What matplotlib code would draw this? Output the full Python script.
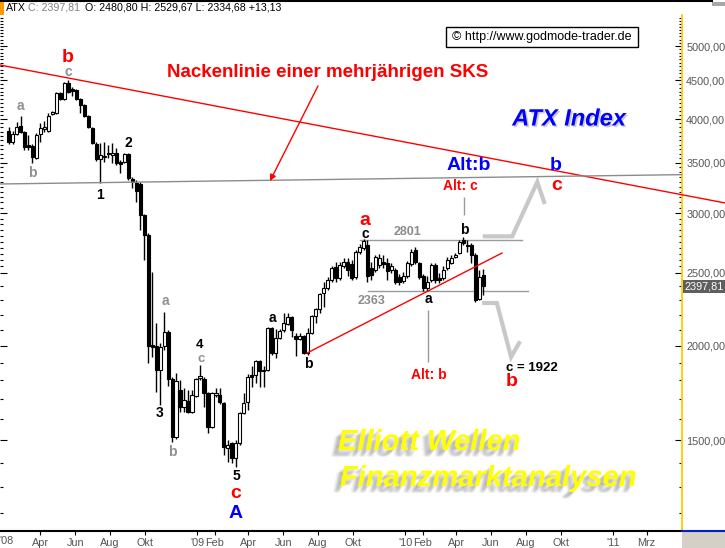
import numpy as np
import pandas as pd
import matplotlib
matplotlib.use("Agg")
import matplotlib.pyplot as plt
import matplotlib.dates as mdates
import matplotlib.patheffects as pe
import matplotlib.transforms as mtransforms
from matplotlib.patches import Rectangle
from matplotlib.lines import Line2D
from matplotlib.ticker import FixedLocator, FuncFormatter, NullFormatter

plt.rcParams["font.family"] = ["Liberation Sans", "DejaVu Sans"]

# weekly ATX candles, Feb 2008 - May 2010
weeks = pd.date_range("2008-02-05", periods=120, freq="W-TUE")
opens = [3858, 3731, 3823, 3918, 3847, 3697, 3685, 3553, 3823, 3882,
         3858, 4064, 4077, 4334, 4255, 4468, 4387, 4374, 4255, 4178,
         4039, 3894, 3708, 3542, 3563, 3596, 3585, 3607, 3509, 3509,
         3596, 3332, 3291, 3281, 2985, 2807, 2006, 1999, 1858, 1999,
         2087, 1808, 1514, 1748, 1659, 1690, 1634, 1716, 1813, 1808,
         1732, 1561, 1721, 1721, 1680, 1464, 1486, 1420, 1486, 1629,
         1685, 1830, 1830, 1910, 1852, 1858, 2113, 1957, 2049, 2100,
         2139, 2185, 2062, 2043, 2062, 1957, 2081, 2192, 2239, 2351,
         2387, 2447, 2546, 2462, 2554, 2585, 2569, 2469, 2665, 2698,
         2723, 2538, 2523, 2561, 2585, 2577, 2523, 2523, 2469, 2440,
         2477, 2569, 2682, 2577, 2477, 2387, 2447, 2561, 2462, 2462,
         2538, 2577, 2625, 2657, 2765, 2723, 2723, 2641, 2308, 2481]
highs = [3906, 3858, 3966, 4039, 3858, 3811, 3708, 3835, 3954, 3978,
         4077, 4102, 4347, 4347, 4482, 4509, 4414, 4387, 4268, 4190,
         4052, 3906, 3731, 3719, 3731, 3697, 3719, 3663, 3531, 3607,
         3607, 3352, 3322, 3301, 2994, 2825, 2507, 2145, 2018, 2218,
         2100, 1819, 1841, 1802, 1759, 1748, 1748, 1813, 1887, 1819,
         1737, 1737, 1759, 1759, 1685, 1500, 1491, 1500, 1634, 1732,
         1835, 1881, 1916, 1916, 1881, 2119, 2119, 2106, 2106, 2212,
         2212, 2192, 2081, 2081, 2068, 2113, 2198, 2246, 2351, 2432,
         2469, 2554, 2585, 2585, 2617, 2617, 2601, 2682, 2731, 2773,
         2765, 2585, 2641, 2649, 2641, 2617, 2577, 2538, 2492, 2507,
         2593, 2690, 2706, 2585, 2492, 2477, 2577, 2577, 2499, 2554,
         2625, 2641, 2657, 2765, 2790, 2765, 2740, 2657, 2523, 2530]
lows = [3708, 3708, 3811, 3835, 3641, 3641, 3499, 3542, 3731, 3847,
        3847, 4052, 4064, 4242, 4242, 4334, 4294, 4242, 4077, 4027,
        3894, 3708, 3520, 3291, 3509, 3553, 3499, 3477, 3393, 3499,
        3322, 3241, 3105, 2851, 2601, 1898, 1933, 1737, 1669, 1975,
        1769, 1491, 1505, 1634, 1634, 1629, 1629, 1711, 1802, 1659,
        1532, 1556, 1711, 1675, 1433, 1402, 1398, 1381, 1477, 1624,
        1644, 1764, 1786, 1764, 1764, 1852, 1945, 1927, 2043, 2087,
        2132, 2055, 1939, 2037, 1951, 1945, 2074, 2145, 2212, 2253,
        2373, 2432, 2432, 2447, 2538, 2477, 2447, 2454, 2649, 2682,
        2432, 2447, 2507, 2538, 2538, 2447, 2499, 2417, 2409, 2424,
        2462, 2554, 2569, 2454, 2366, 2366, 2432, 2424, 2424, 2447,
        2523, 2569, 2617, 2649, 2723, 2665, 2577, 2287, 2301, 2335]
closes = [3731, 3823, 3906, 3847, 3674, 3674, 3563, 3811, 3894, 3906,
          4039, 4089, 4334, 4255, 4468, 4347, 4360, 4255, 4178, 4039,
          3906, 3719, 3542, 3585, 3574, 3607, 3607, 3499, 3488, 3596,
          3342, 3301, 3212, 2985, 2807, 1999, 1993, 1858, 1993, 2087,
          1808, 1514, 1796, 1659, 1695, 1634, 1721, 1808, 1824, 1732,
          1561, 1732, 1732, 1685, 1468, 1477, 1420, 1486, 1629, 1680,
          1819, 1819, 1910, 1852, 1858, 2113, 1957, 2049, 2093, 2145,
          2185, 2100, 2043, 2062, 1957, 2081, 2192, 2239, 2344, 2387,
          2447, 2538, 2462, 2561, 2585, 2523, 2462, 2665, 2706, 2756,
          2477, 2484, 2625, 2617, 2569, 2515, 2554, 2432, 2432, 2477,
          2577, 2665, 2585, 2469, 2387, 2432, 2561, 2447, 2447, 2523,
          2601, 2617, 2641, 2748, 2740, 2715, 2641, 2301, 2469, 2398]
last_close = 2397.81

# hand drawn lines (dates, index levels)
neck_red_dates = ["2008-01-21", "2011-07-17"]
neck_red_vals = [4718, 3095]
neck_gray_dates = ["2008-01-21", "2011-05-02"]
neck_gray_vals = [3280, 3375]
trend_dates = ["2009-07-13", "2010-06-20"]
trend_vals = [1957, 2656]
top_range_dates = ["2009-10-14", "2010-07-25"]
top_range_val = 2765
low_range_dates = ["2009-10-28", "2010-08-05"]
low_range_val = 2366
path_up_dates = ["2010-05-21", "2010-07-08", "2010-08-21", "2010-09-02"]
path_up_vals = [2795, 2795, 3300, 3104]
path_dn_dates = ["2010-05-20", "2010-06-11", "2010-07-06", "2010-07-20"]
path_dn_vals = [2280, 2280, 1933, 2017]
vline_dates = ["2010-04-14", "2010-02-10"]
vline_tops = [3152, 2232]
vline_bottoms = [2983, 1904]

tick_dates = ["2008-04-01", "2008-06-01", "2008-08-01", "2008-10-01",
              "2009-01-01", "2009-02-01", "2009-04-01", "2009-06-01",
              "2009-08-01", "2009-10-01", "2010-01-01", "2010-02-01",
              "2010-04-01", "2010-06-01", "2010-08-01", "2010-10-01",
              "2011-01-01", "2011-03-01"]
tick_labels = ["Apr", "Jun", "Aug", "Okt", "'09", "Feb", "Apr", "Jun",
               "Aug", "Okt", "'10", "Feb", "Apr", "Jun", "Aug", "Okt",
               "'11", "Mrz"]
y_major = [1500, 2000, 2500, 3000, 3500, 4000, 4500, 5000]

W, H = 725, 548
fig = plt.figure(figsize=(W / 100, H / 100), dpi=100)
ax = fig.add_axes([0, 17 / H, 682 / W, 516 / H])

x = mdates.date2num(weeks)
o, hi, lo, c = map(np.array, (opens, highs, lows, closes))
ax.vlines(x, lo, hi, color="black", lw=1, zorder=2)
b_lo = np.minimum(o, c)
b_hi = np.maximum(o, c)
ax.bar(x, b_hi - b_lo, bottom=b_lo, width=5.5,
       color=np.where(c >= o, "white", "black"),
       edgecolor="black", linewidth=0.8, zorder=3)

dn = pd.to_datetime
ax.plot(dn(neck_red_dates), neck_red_vals, color="red", lw=1, clip_on=False, zorder=4)
ax.plot(dn(neck_gray_dates), neck_gray_vals, color="#8c8c8c", lw=1, zorder=4)
ax.plot(dn(trend_dates), trend_vals, color="red", lw=1, zorder=4)
ax.plot(dn(top_range_dates), [top_range_val] * 2, color="#9a9a9a", lw=1, zorder=1)
ax.plot(dn(low_range_dates), [low_range_val] * 2, color="#9a9a9a", lw=1, zorder=1)
ax.vlines(dn(vline_dates), vline_bottoms, vline_tops, color="#9a9a9a", lw=1)
ax.plot(dn(path_up_dates), path_up_vals, color="#c8c8c8", lw=3, solid_joinstyle="miter")
ax.plot(dn(path_dn_dates), path_dn_vals, color="#c8c8c8", lw=3, solid_joinstyle="miter")

ax.set_yscale("log")
ax.set_ylim(1136, 5497)
ax.set_xlim(dn("2008-01-21"), dn("2011-05-02"))

minor = [v for v in range(1200, 2500, 100)] + [v for v in range(2500, 5500, 50)]
minor = [v for v in minor if v not in y_major]
ax.yaxis.set_major_locator(FixedLocator(y_major))
ax.yaxis.set_minor_locator(FixedLocator(minor))
ax.yaxis.set_major_formatter(FuncFormatter(lambda v, p: f"{v:.2f}".replace(".", ",")))
ax.yaxis.set_minor_formatter(NullFormatter())
ax.tick_params(axis="y", which="both", direction="in", left=True, right=True,
               labelleft=False, labelright=True, labelcolor="#555555",
               labelsize=7.8, pad=3, width=0.8)
ax.tick_params(axis="y", which="major", length=5)
ax.tick_params(axis="y", which="minor", length=2.5)

ax.set_xticks(dn(tick_dates))
ax.set_xticklabels(tick_labels)
ax.tick_params(axis="x", direction="out", length=3, width=0.8, labelsize=7.8,
               labelcolor="#555555", pad=2)

for s in ("top", "left"):
    ax.spines[s].set_visible(False)
ax.spines["right"].set_color("#ffcc00")
ax.spines["right"].set_linewidth(1.3)
ax.spines["bottom"].set_linewidth(1.5)

# current value tag on the price scale
trans = mtransforms.blended_transform_factory(ax.transAxes, ax.transData)
ax.text(1.004, last_close, f"{last_close:.2f}".replace(".", ","), transform=trans,
        ha="left", va="center", fontsize=7.8, color="white", clip_on=False,
        bbox=dict(boxstyle="square,pad=0.12", fc="#5f5f5f", ec="none"))


def put(px, py, s, **kw):
    kw.setdefault("ha", "center")
    kw.setdefault("va", "center")
    return fig.text(px / W, 1 - py / H, s, **kw)


# frame bits
fig.add_artist(Line2D([0, 712 / W], [1 - 1 / H] * 2, color="black", lw=1.5))
fig.add_artist(Rectangle((0, 1 - 15 / H), 4 / W, 15 / H, fc="#ff9900", ec="none"))
fig.add_artist(Rectangle((712 / W, 1 - 6 / H), 13 / W, 4 / H, fc="#a8a8a8", ec="none"))
fig.add_artist(Rectangle((682 / W, 0), 43 / W, 17 / H, fc="#d4d0c8", ec="none"))
fig.add_artist(Line2D([682 / W, 1], [17 / H] * 2, color="#0020c0", lw=1.5))
put(7, 541, "'08", fontsize=7.8, color="#555555")

# header
put(6, 8, "ATX", ha="left", fontsize=7.7, color="black")
put(28, 8, "C: 2397,81", ha="left", fontsize=7.7, color="#808080")
put(85, 8, "O: 2480,80 H: 2529,67 L: 2334,68 +13,13", ha="left", fontsize=7.7, color="black")

# source box
fig.add_artist(Rectangle((446 / W, 1 - 47 / H), 192 / W, 20 / H, fc="white", ec="black", lw=1))
put(542, 37, "\u00a9 http://www.godmode-trader.de", fontsize=9, color="black")

put(328, 72, "Nackenlinie einer mehrjährigen SKS", fontsize=13.5, weight="bold", color="red")
fig.add_artist(plt.Annotation("", xy=(270 / W, 1 - 181 / H), xytext=(318 / W, 1 - 86 / H),
                              xycoords="figure fraction", textcoords="figure fraction",
                              arrowprops=dict(arrowstyle="-|>", color="red", lw=1,
                                              mutation_scale=9, shrinkA=0, shrinkB=0)))

put(569, 119, "ATX Index", fontsize=17, weight="bold", style="italic", color="#0000ff",
    path_effects=[pe.SimplePatchShadow(offset=(1.2, -1.2), shadow_rgbFace="#9a9a9a", alpha=0.5),
                  pe.Normal()])

# soft, blurred shadow for the yellow banner
offs = [(-1.5, -1.5), (-2.5, -2.5), (-3.5, -3), (-3, -4), (-4.5, -4), (-4, -5), (-5.5, -4.5)]
shadow = [pe.SimplePatchShadow(offset=(dx, dy), shadow_rgbFace="#7a7a7a", alpha=0.1)
          for dx, dy in offs] + [pe.Normal()]
put(338, 450, "Elliott Wellen", ha="left", va="baseline", fontsize=21, weight="bold",
    style="italic", color="#ffff00", path_effects=shadow)
put(340, 486, "Finanzmarktanalysen", ha="left", va="baseline", fontsize=21, weight="bold",
    style="italic", color="#ffff00", path_effects=shadow)

big = dict(fontsize=14, weight="bold")
small_gray = dict(fontsize=10, weight="bold", color="#909090")
small_blk = dict(fontsize=10, weight="bold", color="black")

put(68, 58, "b", color="red", **big)
put(68, 72, "c", **small_gray)
put(20, 106, "a", **small_gray)
put(32, 173, "b", **small_gray)
put(128, 143, "2", **small_blk)
put(100, 195, "1", **small_blk)
put(165, 301, "a", **small_gray)
put(200, 345, "4", fontsize=9.5, weight="bold", color="black")
put(201, 359, "c", fontsize=9.5, weight="bold", color="#909090")
put(160, 413, "3", **small_blk)
put(172, 452, "b", **small_gray)
put(236, 476, "5", **small_blk)
put(236, 493, "c", color="red", **big)
put(236, 514, "A", color="#0000ff", **big)
put(272, 318, "a", **small_blk)
put(308, 364, "b", **small_blk)
put(365, 220, "a", color="red", **big)
put(365, 234, "c", **small_blk)
put(407, 232, "2801", fontsize=9, weight="bold", color="#8c8c8c")
put(372, 301, "2363", fontsize=9, weight="bold", color="#8c8c8c")
put(428, 299, "a", **small_blk)
put(429, 375, "Alt: b", fontsize=10, weight="bold", color="red")
put(469, 166, "Alt:b", color="#0000ff", **big)
put(460, 186, "Alt: c", fontsize=10, weight="bold", color="red")
put(464, 230, "b", **small_blk)
put(556, 165, "b", color="#0000ff", **big)
put(557, 186, "c", color="red", **big)
put(532, 368, "c = 1922", fontsize=9.5, weight="bold", color="black")
put(512, 382, "b", color="red", **big)

fig.savefig("out.png", dpi=100)
